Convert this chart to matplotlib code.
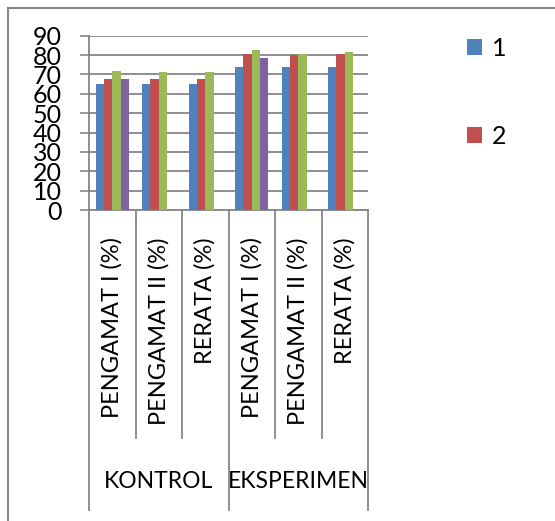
import matplotlib
matplotlib.use("Agg")
import matplotlib.pyplot as plt
import numpy as np
from matplotlib.patches import Rectangle

plt.rcParams['font.family'] = ['Lato', 'DejaVu Sans']

categories = ["PENGAMAT I (%)", "PENGAMAT II (%)", "RERATA (%)",
              "PENGAMAT I (%)", "PENGAMAT II (%)", "RERATA (%)"]
groups = ["KONTROL", "EKSPERIMEN"]
series_names = ["1", "2", "3", "4"]
s1 = [65.0, 65.3, 65.0, 73.7, 74.0, 74.0]
s2 = [67.7, 67.4, 67.4, 80.8, 80.0, 80.3]
s3 = [71.8, 71.0, 71.5, 82.7, 80.3, 81.7]
s4 = [67.7, np.nan, np.nan, 78.4, np.nan, np.nan]
colors = ['#4F81BD', '#C0504D', '#9BBB59', '#8064A2']
grey = '#868686'

fig = plt.figure(figsize=(5.55, 5.21), dpi=100)
ax = fig.add_axes([89 / 555, 1 - 210 / 521, (368 - 89) / 555, (210 - 35.7) / 521])

x = np.arange(len(categories)) + 0.5
w = 0.18
bars = []
for k, vals in enumerate([s1, s2, s3, s4]):
    b = ax.bar(x + (k - 1.5) * w, vals, width=w, color=colors[k], zorder=3)
    bars.append(b)

ax.set_xlim(0, 6)
ax.set_ylim(0, 90)
ax.set_yticks(range(0, 91, 10))
ax.yaxis.grid(True, color=grey, linewidth=1.3, zorder=0)
ax.set_axisbelow(True)
ax.tick_params(axis='y', length=6.5, width=1.2, color=grey, pad=13, labelsize=18)
ax.set_xticks([])
for s in ['top', 'right']:
    ax.spines[s].set_visible(False)
for s in ['left', 'bottom']:
    ax.spines[s].set_color(grey)
    ax.spines[s].set_linewidth(1.3)

# category dividers below the axis
trans = ax.get_xaxis_transform()
for i in range(7):
    bottom = -1.72 if i in (0, 3, 6) else -1.31
    ax.plot([i, i], [0, bottom], color=grey, lw=1.3, transform=trans, clip_on=False)

for xi, lab in zip(x, categories):
    ax.text(xi, -0.155, lab, rotation=90, ha='center', va='top', fontsize=17,
            transform=trans)
for gi, g in enumerate(groups):
    ax.text(gi * 3 + 1.5, -1.56, g, ha='center', va='center', fontsize=16.5,
            transform=trans)

fig.legend([bars[0], bars[1]], series_names[:2], loc='upper left',
           bbox_to_anchor=(444 / 555, 1 - 14 / 521), frameon=False, fontsize=18,
           handlelength=0.6, handleheight=0.6, handletextpad=0.4, labelspacing=2.6)

fig.add_artist(Rectangle((8 / 555, -0.1), 1.2, 1.1 - 8 / 521, fill=False,
                         edgecolor=grey, lw=1.5, transform=fig.transFigure))

fig.savefig("out.png", dpi=100)
